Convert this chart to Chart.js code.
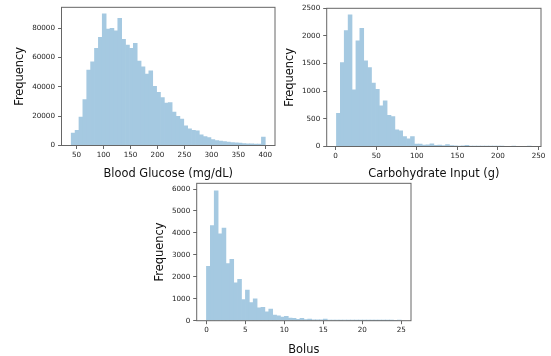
<!DOCTYPE html>
<html lang="en">
<head>
<meta charset="UTF-8">
<title>Histograms</title>
<script src="https://cdn.jsdelivr.net/npm/chart.js"></script>
<style>
    body { margin: 0; background: #fff; }
    #wrap { position: relative; width: 551px; height: 356px; }
    canvas { position: absolute; }
</style>
</head>
<body>
<div id="wrap">
    <canvas id="glucose" width="280" height="182" style="left:0;top:0"></canvas>
    <canvas id="carbs" width="271" height="182" style="left:280px;top:0"></canvas>
    <canvas id="bolus" width="280" height="180" style="left:150px;top:176px"></canvas>
</div>
<script>
// histogram counts, 50 bins each
const glucoseRange = [40, 400];
const glucoseCounts = [8460, 10290, 19430, 31300, 51430, 57140, 66290, 73830, 89830, 79500,
    80000, 78300, 86860, 72460, 68570, 66290, 69710, 57600, 53710, 48690,
    50970, 40460, 36340, 32690, 29030, 29260, 22860, 19890, 18060, 13490,
    11430, 10290, 10060, 7310, 6170, 5490, 4110, 3430, 2970, 2740,
    2290, 2060, 1830, 1600, 1370, 1140, 1140, 915, 915, 5710];
const glucoseXTicks = [50, 100, 150, 200, 250, 300, 350, 400];
const glucoseYTicks = [0, 20000, 40000, 60000, 80000];

const carbsRange = [1, 241];
const carbsCounts = [602, 1518, 2096, 2380, 1024, 1910, 2139, 1548, 1428, 1145,
    1036, 735, 825, 566, 542, 300, 283, 180, 140, 178,
    45, 45, 25, 30, 50, 20, 25, 15, 35, 15,
    10, 8, 10, 20, 8, 5, 4, 3, 2, 2,
    1, 1, 1, 0, 0, 1, 0, 0, 0, 1];
const carbsXTicks = [0, 50, 100, 150, 200, 250];
const carbsYTicks = [0, 500, 1000, 1500, 2000, 2500];

const bolusRange = [0, 25];
const bolusCounts = [2477, 4335, 5921, 3958, 4215, 2598, 2795, 1722, 1888, 967,
    1390, 831, 997, 590, 604, 408, 529, 257, 227, 166,
    196, 121, 106, 60, 110, 50, 70, 40, 35, 40,
    75, 20, 20, 30, 15, 20, 10, 10, 5, 5,
    5, 3, 3, 2, 2, 1, 1, 1, 0, 30];
const bolusXTicks = [0, 5, 10, 15, 20, 25];
const bolusYTicks = [0, 1000, 2000, 3000, 4000, 5000, 6000];

const barColor = '#a5c9e1';   // C0 at alpha .4 over white, kept opaque so bars don't overlap darker
const spineColor = '#666';
const fontFamily = "'DejaVu Sans', sans-serif";

// top and right spines too
const frame = {
    id: 'frame',
    afterDatasetsDraw(chart) {
        const { ctx, chartArea: a } = chart;
        ctx.save();
        ctx.strokeStyle = spineColor;
        ctx.lineWidth = 1;
        ctx.strokeRect(a.left, a.top, a.right - a.left, a.bottom - a.top);
        ctx.restore();
    }
};

function histogram(id, cfg) {
    const w = (cfg.range[1] - cfg.range[0]) / cfg.counts.length;
    const pts = cfg.counts.map((c, i) => ({ x: cfg.range[0] + (i + 0.5) * w, y: c }));
    const span = cfg.range[1] - cfg.range[0];
    const tickFont = { family: fontFamily, size: 7.2 };
    const titleFont = { family: fontFamily, size: 11.4 };
    return new Chart(document.getElementById(id), {
        type: 'bar',
        data: {
            datasets: [{
                data: pts,
                backgroundColor: barColor,
                borderWidth: 0,
                barPercentage: 1,
                categoryPercentage: 1
            }]
        },
        options: {
            responsive: false,
            animation: false,
            layout: { padding: { top: cfg.top, right: cfg.right, left: 0, bottom: 0 } },
            plugins: { legend: { display: false }, tooltip: { enabled: false } },
            scales: {
                x: {
                    type: 'linear',
                    offset: false,
                    min: cfg.range[0] - 0.05 * span,
                    max: cfg.range[1] + 0.05 * span,
                    afterFit: s => { s.height = cfg.xh; },
                    afterBuildTicks: s => { s.ticks = cfg.xTicks.map(v => ({ value: v })); },
                    grid: { drawOnChartArea: false, drawTicks: true, tickLength: 3.5, tickColor: spineColor, offset: false },
                    border: { display: false },
                    ticks: { font: tickFont, color: '#222', padding: 2, maxRotation: 0, autoSkip: false, callback: v => String(v) },
                    title: { display: true, text: cfg.xTitle, font: titleFont, color: '#111', padding: { top: 0, bottom: cfg.xtPad } }
                },
                y: {
                    min: 0,
                    max: cfg.yMax,
                    afterFit: s => { s.width = cfg.yw; },
                    afterBuildTicks: s => { s.ticks = cfg.yTicks.map(v => ({ value: v })); },
                    grid: { drawOnChartArea: false, drawTicks: true, tickLength: 3.5, tickColor: spineColor },
                    border: { display: false },
                    ticks: { font: tickFont, color: '#222', padding: 3, autoSkip: false, callback: v => String(v) },
                    title: { display: true, text: 'Frequency', font: titleFont, color: '#111', padding: { top: cfg.ytPad, bottom: 0 } }
                }
            }
        },
        plugins: [frame]
    });
}

histogram('glucose', {
    range: glucoseRange, counts: glucoseCounts, xTicks: glucoseXTicks, yTicks: glucoseYTicks,
    yMax: 94300, xTitle: 'Blood Glucose (mg/dL)',
    top: 7.3, right: 5, yw: 61.5, xh: 36.5, xtPad: 1, ytPad: 13.2
});
histogram('carbs', {
    range: carbsRange, counts: carbsCounts, xTicks: carbsXTicks, yTicks: carbsYTicks,
    yMax: 2500, xTitle: 'Carbohydrate Input (g)',
    top: 8.3, right: 10, yw: 46.7, xh: 35.5, xtPad: 1, ytPad: 3.2
});
histogram('bolus', {
    range: bolusRange, counts: bolusCounts, xTicks: bolusXTicks, yTicks: bolusYTicks,
    yMax: 6260, xTitle: 'Bolus',
    top: 6.5, right: 19, yw: 46.7, xh: 35.3, xtPad: -1, ytPad: 3.2
});
</script>
</body>
</html>
